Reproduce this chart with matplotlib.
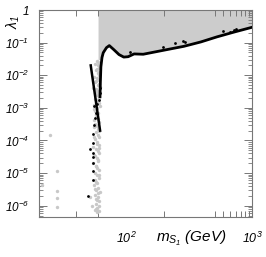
import numpy as np
import matplotlib
matplotlib.use('Agg')
import matplotlib.pyplot as plt
from matplotlib.ticker import FixedLocator, NullFormatter, LogLocator

plt.rcParams['font.family'] = ['Liberation Sans', 'DejaVu Sans']
plt.rcParams['mathtext.fontset'] = 'custom'
plt.rcParams['mathtext.rm'] = 'Liberation Sans:italic'
plt.rcParams['mathtext.it'] = 'Liberation Sans:italic'

# allowed region boundary (black curve)
curve_m = [62.2, 62.6, 63.2, 64.5, 66, 70, 73.7, 80, 88, 96, 104, 116, 137,
           211, 288, 393, 527, 719, 1000]
curve_l = [2.2e-3, 6e-3, 0.018, 0.035, 0.049, 0.070, 0.081, 0.061, 0.043,
           0.036, 0.037, 0.045, 0.044, 0.061, 0.077, 0.105, 0.15, 0.21, 0.295]

# shaded (excluded) region lower edge
fill_m = [60, 64, 66, 70, 73.7, 80, 88, 96, 104, 116, 137, 211, 288, 393,
          527, 719, 1000]
fill_l = [0.03, 0.03, 0.049, 0.070, 0.081, 0.061, 0.043, 0.036, 0.037, 0.045,
          0.044, 0.061, 0.077, 0.105, 0.15, 0.21, 0.295]

# steep line near the Higgs resonance
steep_m = [52.5, 62.3]
steep_l = [0.02, 2e-4]

# grey scan points
grey_m = [58.5, 60.5, 59.5, 61, 57.5, 60, 61.5, 58.8, 60.8, 57, 59.8, 61.8,
          58, 60.2, 56.5, 59, 61.2, 57.8, 60.6, 55.5, 58.6,
          56.8, 60.3, 57.6, 59.2, 55.8, 61.4, 58.2, 56.2, 60.1, 57.3, 59.6,
          61.6, 56.6, 58.9, 60.7, 55.2, 57.9, 59.9, 61.1, 56.9, 58.4, 60.4,
          54.8, 57.4, 59.4, 61.3, 56.4,
          58.7, 60.9, 57.1, 59.1, 55.6, 60.2, 58.1, 61.7, 56.7, 59.7, 57.7,
          60.6, 58.3, 61.2, 59.3, 57.2, 60, 58.9, 61.5, 53.5, 52,
          57.2, 59.0, 61.3, 56.0, 58.3, 60.9, 55.0, 57.9, 60.1, 56.3, 59.5,
          61.9, 55.4, 58.0, 60.4, 57.0, 59.1, 61.0, 56.1, 58.6, 60.7, 55.9,
          59.8, 57.5, 61.4, 58.1, 56.5, 60.3, 59.2, 57.8,
          24.9, 28.4, 28.4, 28.4, 28.4, 21.5]
grey_l = [0.028, 0.025, 0.02, 0.017, 0.014, 0.012, 0.01, 0.0085, 0.007, 0.006,
          0.005, 0.0045, 0.0038, 0.0032, 0.0028, 0.0024, 0.002, 0.0017,
          0.0014, 0.0012, 0.001,
          8e-4, 7e-4, 6e-4, 5e-4, 4.2e-4, 3.6e-4, 3e-4, 2.5e-4, 2.2e-4, 1.8e-4,
          1.5e-4, 1.3e-4, 1.1e-4, 9e-5, 7.5e-5, 6.5e-5, 5.5e-5, 4.6e-5, 4e-5,
          3.3e-5, 2.8e-5, 2.3e-5, 2e-5, 1.7e-5, 1.45e-5, 1.2e-5, 1e-5,
          8.5e-6, 7.2e-6, 6e-6, 5e-6, 4.3e-6, 3.6e-6, 3e-6, 2.6e-6, 2.2e-6,
          1.9e-6, 1.6e-6, 1.35e-6, 1.15e-6, 1e-6, 8.7e-7, 7.6e-7, 6.8e-7,
          6.2e-7, 7e-7, 9.5e-7, 1.9e-6,
          0.022, 0.016, 0.013, 0.009, 0.0065, 0.0055, 0.0042, 0.0034, 0.0026,
          0.0019, 0.0015, 0.0011, 9e-4, 6.5e-4, 4.5e-4, 3.3e-4, 2.7e-4, 1.9e-4,
          1.25e-4, 8e-5, 6e-5, 3.6e-5, 2.6e-5, 1.6e-5, 9e-6, 5.5e-6, 3.3e-6,
          2.4e-6, 1.45e-6, 8e-7]
grey_l += [1.5e-4, 1.15e-5, 2.8e-6, 1.7e-6, 9e-7, 4.3e-6]

# black scan points
black_m = [62.2, 62.2, 61.1, 58.9, 57.8, 56.8, 54.7, 54.7, 51.8, 54.7, 54.7,
           54.7, 54.7, 49.9, 55.5, 56.0, 55.0,
           108, 196, 245, 284, 294, 588, 668, 719, 750]
black_l = [4.1e-3, 2.9e-3, 1.76e-3, 1.33e-3, 7e-4, 4.9e-4, 1.58e-4, 8.4e-5,
           5.5e-5, 4.2e-5, 2.04e-5, 1.15e-5, 6.1e-6, 1.96e-6, 3e-4, 1.1e-3,
           3.1e-5,
           0.053, 0.075, 0.1, 0.115, 0.107, 0.234, 0.218, 0.25, 0.27]

x_minor = [40, 60, 200, 510, 590, 670, 750, 820, 880, 950]

fig = plt.figure(figsize=(2.66, 2.57), dpi=100)
ax = fig.add_axes([39 / 266, 1 - 217 / 257, 213 / 266, 207 / 257])
ax.set_xscale('log')
ax.set_yscale('log')
ax.set_xlim(20.4, 1000)
ax.set_ylim(4.5e-7, 1)

ax.fill_between(fill_m, fill_l, 1, color='#cccccc', lw=0, zorder=1)
ax.scatter(grey_m, grey_l, s=6, color='#c8c8c8', lw=0, zorder=2)
ax.plot(curve_m, curve_l, color='black', lw=2, zorder=3)
ax.plot(steep_m, steep_l, color='black', lw=1.8, zorder=3)
ax.scatter(black_m, black_l, s=4, color='black', lw=0, zorder=4)

for sp in ax.spines.values():
    sp.set_color('#777777')
    sp.set_linewidth(0.8)

ax.xaxis.set_major_locator(FixedLocator([100, 1000]))
ax.xaxis.set_minor_locator(FixedLocator(x_minor))
ax.xaxis.set_minor_formatter(NullFormatter())
ax.set_xticklabels(['$10^2$', '$10^3$'])
ax.tick_params(axis='x', which='major', length=0, pad=10, labelsize=9)
ax.tick_params(axis='x', which='minor', direction='in', top=True,
               length=4, width=0.7, color='#777777')

ax.yaxis.set_major_locator(FixedLocator([1e-6, 1e-5, 1e-4, 1e-3, 1e-2, 1e-1, 1]))
ax.yaxis.set_minor_locator(LogLocator(base=10, subs=np.arange(2, 10)))
ax.yaxis.set_minor_formatter(NullFormatter())
ax.set_yticklabels(['$10^{-6}$', '$10^{-5}$', '$10^{-4}$', '$10^{-3}$',
                    '$10^{-2}$', '$10^{-1}$', '$1$'])
ax.tick_params(axis='y', which='major', direction='in', right=True,
               length=6, width=0.7, color='#777777', pad=7, labelsize=8.5)
ax.tick_params(axis='y', which='minor', direction='in', right=True,
               length=3, width=0.6, color='#777777')

fig.text(0.72, 0.035, r'$m_{S_1}$ (GeV)', ha='center', va='bottom',
         fontsize=11, style='italic')
fig.text(0.05, 0.915, r'$\lambda_1$', ha='center', va='center',
         fontsize=10, rotation=90)

fig.savefig('out.png', dpi=100)
